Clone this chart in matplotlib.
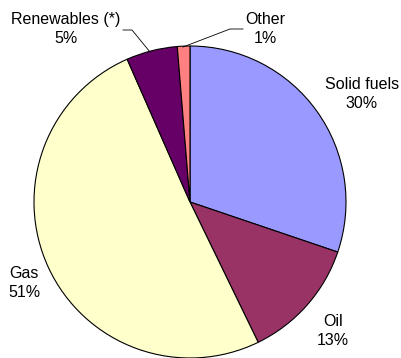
import matplotlib
matplotlib.use("Agg")
import matplotlib.pyplot as plt

categories = ["Solid fuels", "Oil", "Gas", "Renewables (*)", "Other"]
values = [30.2, 12.6, 50.6, 5.3, 1.3]
colors = ["#9999FF", "#993366", "#FFFFCC", "#660066", "#FF8080"]

W, H = 402, 358
CX, CY, R = 190, 202, 156

def px(x, y):
    return ((x - CX) / R, (CY - y) / R)

fig = plt.figure(figsize=(W / 100, H / 100), dpi=100)
ax = fig.add_axes([0, 0, 1, 1])
ax.pie(values, colors=colors, startangle=90, counterclock=False,
       wedgeprops=dict(edgecolor="black", linewidth=0.8), radius=1.0)
x0, y0 = px(0, H)
x1, y1 = px(W, 0)
ax.set_xlim(x0, x1)
ax.set_ylim(y0, y1)
ax.set_aspect("auto")
ax.axis("off")

label_pos = {
    "Solid fuels": (362, 94),
    "Oil": (333, 331),
    "Gas": (24, 283),
    "Renewables (*)": (66, 29),
    "Other": (265, 29),
}
plt.rcParams["font.family"] = ["Liberation Sans", "DejaVu Sans"]
for cat, v in zip(categories, values):
    x, y = px(*label_pos[cat])
    ax.text(x, y, f"{cat}\n{v:.0f}%", ha="center", va="center",
            fontsize=11.5, linespacing=1.35, family=["Liberation Sans", "DejaVu Sans"])

# leader lines
lx, ly = zip(*[px(123, 30), px(132, 30), px(150, 52)])
ax.plot(lx, ly, color="black", lw=0.6)
lx, ly = zip(*[px(183, 47), px(230, 29), px(243, 29)])
ax.plot(lx, ly, color="black", lw=0.6)

fig.savefig("out.png", dpi=100)
